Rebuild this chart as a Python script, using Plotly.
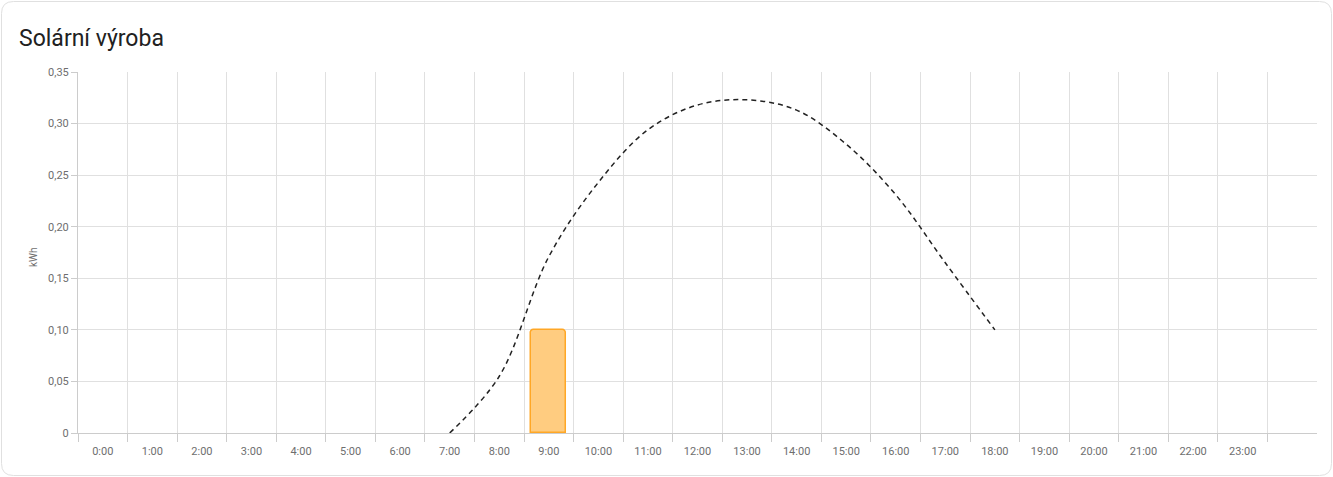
import plotly.graph_objects as go

hours = list(range(24))
hour_labels = [f"{h}:00" for h in hours]

# actual production (kWh)
prod_hours = [9]
prod_values = [0.10]

# forecast (kWh)
fc_hours = [7, 8, 9, 10, 11, 12, 13, 14, 15, 16, 17, 18]
fc_values = [0.0, 0.055, 0.171, 0.243, 0.294, 0.318, 0.323, 0.313, 0.280, 0.231, 0.165, 0.10]

y_ticks = [0, 0.05, 0.10, 0.15, 0.20, 0.25, 0.30, 0.35]
y_labels = ["0", "0,05", "0,10", "0,15", "0,20", "0,25", "0,30", "0,35"]

W, H = 1333, 477
L, R, T, B = 78, 16, 72, 44
pw, ph = W - L - R, H - T - B

def px(x):
    return (x - L) / pw

def py(y):
    return (H - B - y) / ph

fig = go.Figure()
fig.add_trace(go.Bar(
    x=prod_hours, y=prod_values, width=0.71,
    marker=dict(color="#ffcc80", line=dict(color="#ffa726", width=1.5), cornerradius=4),
    hoverinfo="skip", showlegend=False,
))
fig.add_trace(go.Scatter(
    x=fc_hours, y=fc_values, mode="lines",
    line=dict(color="#222222", width=1.5, dash="5px,4px", shape="spline", smoothing=1.0),
    hoverinfo="skip", showlegend=False,
))

grid = "#e0e0e0"
fig.update_xaxes(
    type="linear", range=[-0.5, 24.5],
    tickvals=hours, ticktext=hour_labels,
    ticks="outside", ticklen=8, tickcolor="rgba(0,0,0,0)",
    showgrid=False, zeroline=False,
    showline=True, linecolor="#cccccc", linewidth=1,
    tickfont=dict(family="Roboto", size=11, color="#6e6e6e"),
    minor=dict(tickvals=[h - 0.5 for h in range(25)], ticks="outside", ticklen=8,
               tickcolor="#cccccc", showgrid=True, gridcolor=grid, gridwidth=1),
    fixedrange=True,
)
fig.update_yaxes(
    range=[0, 0.35], tickvals=y_ticks, ticktext=y_labels,
    ticks="outside", ticklen=6, tickcolor="#cccccc",
    showgrid=True, gridcolor=grid, gridwidth=1, zeroline=False,
    showline=True, linecolor="#cccccc", linewidth=1,
    tickfont=dict(family="Roboto", size=11, color="#6e6e6e"),
    fixedrange=True,
)

r = 12
x0, x1 = px(1.5), px(W - 1.5)
y0, y1 = py(H - 1.5), py(1.5)
rx, ry = r / pw, r / ph
path = (f"M {x0+rx},{y1} L {x1-rx},{y1} Q {x1},{y1} {x1},{y1-ry} "
        f"L {x1},{y0+ry} Q {x1},{y0} {x1-rx},{y0} L {x0+rx},{y0} "
        f"Q {x0},{y0} {x0},{y0+ry} L {x0},{y1-ry} Q {x0},{y1} {x0+rx},{y1} Z")
fig.add_shape(type="path", path=path, xref="paper", yref="paper",
              line=dict(color="#e0e0e0", width=1), layer="below")

fig.add_annotation(text="kWh", xref="paper", yref="paper", x=px(33), y=py(258),
                   xanchor="center", yanchor="middle",
                   textangle=-90, showarrow=False,
                   font=dict(family="Roboto", size=10, color="#6e6e6e"))

fig.update_layout(
    width=W, height=H,
    margin=dict(l=L, r=R, t=T, b=B, autoexpand=False),
    paper_bgcolor="white", plot_bgcolor="white",
    title=dict(text="Solární výroba", xref="container", yref="container",
               x=19 / W, xanchor="left", y=1 - 38 / H, yanchor="middle",
               font=dict(family="Roboto", size=23, color="#212121")),
    showlegend=False, bargap=0,
)

fig.write_html("out.html", config={"displayModeBar": False},
               post_script="document.body.style.margin='0';document.body.style.overflow='hidden';")
